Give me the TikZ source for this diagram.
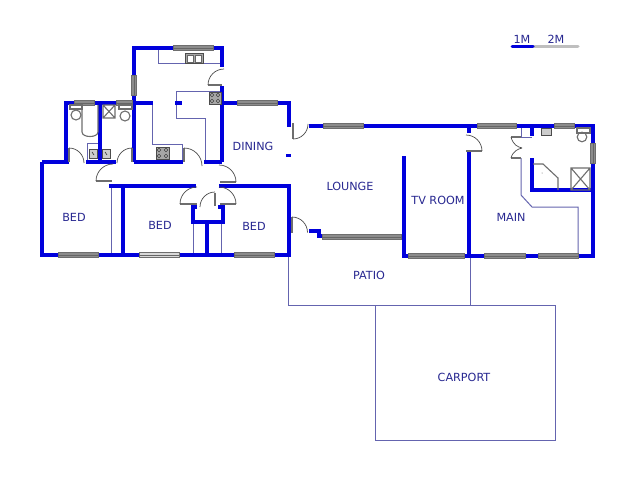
\documentclass[tikz,border=0pt]{standalone}
\usepackage{fontspec}
\setmainfont{DejaVu Sans}
\definecolor{wallblue}{RGB}{0,0,220}
\definecolor{thinblue}{RGB}{100,100,175}
\definecolor{labelblue}{RGB}{40,40,145}
\definecolor{wingray}{RGB}{140,140,140}
\definecolor{fixgray}{RGB}{110,110,110}
\tikzset{
  wall/.style={draw=wallblue,line width=4.2pt,line cap=square,line join=miter},
  thinline/.style={draw=thinblue,line width=1pt},
  winbar/.style={draw=fixgray,fill=wingray,line width=0.7pt},
  winlight/.style={draw=fixgray,fill=white!85!black,line width=0.7pt},
  doorline/.style={draw=black!70,line width=0.7pt},
  leaf/.style={draw=fixgray,line width=1.3pt},
  fixture/.style={draw=fixgray,line width=1.1pt},
  appliance/.style={draw=black!70,fill=black!35,line width=0.6pt},
  roomlabel/.style={text=labelblue,font=\fontsize{11.2}{13}\selectfont,inner sep=0pt},
}
\newcommand{\winh}[4][winbar]{\path[#1] (#2,#4-2.8) rectangle (#3,#4+2.8);
  \draw[black!60,line width=0.5pt] (#2,#4) -- (#3,#4);}
\newcommand{\winv}[3]{\path[winbar] (#3-2.8,#1) rectangle (#3+2.8,#2);
  \draw[black!60,line width=0.5pt] (#3,#1) -- (#3,#2);}
\begin{document}
\begin{tikzpicture}[x=1pt,y=-1pt]
\useasboundingbox (0,0) rectangle (640,480);
\fill[white] (0,0) rectangle (640,480);

% thin outlines
\draw[thinline] (288,256) -- (288,305) -- (555,305) -- (555,440) -- (375,440) -- (375,305);
\draw[thinline] (470,256) -- (470,305);
\draw[thinline] (158,48) -- (158,63) -- (221,63);
\draw[thinline] (221,91) -- (176,91) -- (176,118) -- (205,118) -- (205,162);
\draw[thinline] (152,103) -- (152,144) -- (182,144) -- (182,162);
\draw[thinline] (87,162) -- (87,143) -- (98,143);
\draw[thinline] (111,186) -- (111,255);
\draw[thinline] (193,223) -- (193,255);
\draw[thinline] (221,223) -- (221,255);
\draw[thinline] (521,126) -- (521,137) -- (532,137);
\draw[thinline] (521,158) -- (521,195) -- (532,207) -- (578,207) -- (578,256);

% walls
\draw[wall] (134,162) -- (134,48) -- (222,48) -- (222,67);
\draw[wall] (222,86) -- (222,162);
\draw[wall] (66,162) -- (66,103) -- (153,103);
\draw[wall] (175,103) -- (182,103);
\draw[wall] (222,103) -- (289,103) -- (289,127);
\draw[wall] (100,103) -- (100,162);
\draw[wall] (42,162) -- (69,162);
\draw[wall] (86,162) -- (116,162);
\draw[wall] (134,162) -- (183,162);
\draw[wall] (204,162) -- (222,162);
\draw[wall] (42,162) -- (42,255) -- (289,255) -- (289,186) -- (219,186);
\draw[wall] (109,186) -- (196,186);
\draw[wall] (123,186) -- (123,255);
\draw[wall] (197,207) -- (193,207) -- (193,222) -- (223,222) -- (223,207) -- (218,207);
\draw[wall] (207,222) -- (207,255);
\draw[wall] (309,126) -- (593,126) -- (593,256) -- (404,256) -- (404,156);
\draw[wall] (469,126) -- (469,133);
\draw[wall] (469,152) -- (469,256);
\draw[wall] (532,126) -- (532,136);
\draw[wall] (532,158) -- (532,190) -- (593,190);
\draw[wall] (309,231) -- (319,231) -- (319,236) -- (322,236);
\path[fill=wallblue] (286,154) rectangle (291,157);

% windows
\winh{173}{213}{48}
\winv{75}{95}{134}
\winh{74}{94}{103}
\winh{116}{132}{103}
\winh{237}{277}{103}
\winh{58}{98}{255}
\winh[winlight]{139}{179}{255}
\winh{234}{274}{255}
\winh{323}{363}{126}
\winh{477}{516}{126}
\winh{554}{574}{126}
\winv{143}{163}{593}
\winh{322}{401}{237}
\winh{408}{464}{256}
\winh{484}{525}{256}
\winh{538}{578}{256}

% doors: leaf and swing (angles are measured with y pointing down)
\draw[leaf] (293,123) -- (293,139);
\draw[doorline] (293,139) arc[start angle=90,end angle=0,radius=15];
\draw[leaf] (292,217) -- (292,233);
\draw[doorline] (292,217) arc[start angle=-90,end angle=0,radius=15.5];
\draw[leaf] (69,148) -- (69,162);
\draw[doorline] (69,148) arc[start angle=-90,end angle=0,radius=15];
\draw[leaf] (132,148) -- (132,162);
\draw[doorline] (132,148) arc[start angle=-90,end angle=-180,radius=15];
\draw[leaf] (184,148) -- (184,162);
\draw[doorline] (184,148) arc[start angle=-90,end angle=0,radius=18];
\draw[leaf] (96,181) -- (112,181);
\draw[doorline] (96,181) arc[start angle=180,end angle=270,radius=17];
\draw[leaf] (220,182) -- (236,182);
\draw[doorline] (236,182) arc[start angle=0,end angle=-90,radius=17];
\draw[leaf] (208,85) -- (222,85);
\draw[doorline] (208,85) arc[start angle=180,end angle=270,radius=16];
\draw[leaf] (180,204) -- (197,204);
\draw[doorline] (180,204) arc[start angle=180,end angle=270,radius=17];
\draw[leaf] (220,204) -- (236,204);
\draw[doorline] (236,204) arc[start angle=0,end angle=-90,radius=17];
\draw[leaf] (215,193) -- (215,206);
\draw[doorline] (200,207) arc[start angle=180,end angle=270,radius=15];
\draw[leaf] (466,151) -- (482,151);
\draw[doorline] (482,151) arc[start angle=0,end angle=-90,radius=16];
\draw[leaf] (521,137) -- (511,137);
\draw[doorline] (511,137) .. controls (513,145) and (518,147) .. (522,148);
\draw[leaf] (521,158) -- (511,158);
\draw[doorline] (511,158) .. controls (513,151) and (518,149) .. (522,148);

% kitchen sink and hobs
\path[appliance] (185,53) rectangle (203,63);
\draw[fill=white,draw=black!60,line width=0.4pt] (187,55) rectangle (193,62) (195,55) rectangle (201,62);
\path[appliance] (209,92) rectangle (221,104);
\path[appliance] (156,147) rectangle (169,159);
\foreach \cx/\cy in {212/95,218/95,212/101,218/101,159/150,166/150,159/156,166/156}
  \draw[black!80,fill=white,line width=0.7pt] (\cx,\cy) circle (1.7);

% bathroom fixtures
\draw[fixture] (82,105) -- (82,132) .. controls (82,138) and (98,138) .. (98,132) -- (98,105);
\draw[fixture] (70,105) rectangle (82,109);
\draw[fixture] (76,115) circle (5);
\draw[fixture] (119,105) rectangle (132,109);
\draw[fixture] (125,116) circle (5);
\draw[fixture] (103,105) rectangle (115,118) (103,105) -- (115,118) (115,105) -- (103,118);
\draw[black!70,fill=white!80!black,line width=1pt] (89,149) rectangle (97,158) (102,149) rectangle (110,158);
\draw[black!80,line width=0.6pt] (92,152) -- (94,155) (105,152) -- (107,155);

% ensuite fixtures
\draw[fixture] (533,164) -- (543,164) -- (558,178) -- (558,190);
\fill[black!60] (542,173) circle (0.5);
\draw[fixture] (571,168) rectangle (590,190) (571,168) -- (590,190) (590,168) -- (571,190);
\draw[black!70,fill=white!80!black,line width=1pt] (541,128) rectangle (551,135);
\draw[fixture] (577,128) rectangle (590,133);
\draw[fixture] (582,137) circle (4.8);

% scale bar
\draw[line width=3pt,line cap=round,draw=black!25] (533,46) -- (578,46);
\draw[line width=3pt,line cap=round,draw=wallblue] (512,46) -- (533,46);

% labels
\node[roomlabel] (bedone) at (74,217) {BED};
\node[roomlabel] (bedtwo) at (160,225) {BED};
\node[roomlabel] (bedthree) at (254,226) {BED};
\node[roomlabel] (dining) at (253,146) {DINING};
\node[roomlabel] (lounge) at (350,186) {LOUNGE};
\node[roomlabel] (tvroom) at (438,200) {TV ROOM};
\node[roomlabel] (main) at (511,217) {MAIN};
\node[roomlabel] (patio) at (369,275) {PATIO};
\node[roomlabel] (carport) at (464,377) {CARPORT};
\node[roomlabel] (scaleone) at (522,39) {1M};
\node[roomlabel] (scaletwo) at (556,39) {2M};
\end{tikzpicture}
\end{document}
